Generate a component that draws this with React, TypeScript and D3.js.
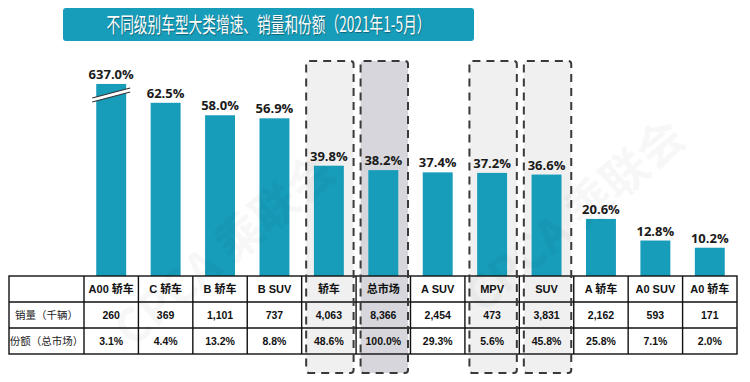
import React from "react";
import * as d3 from "d3";

const categories = ["A00 轿车", "C 轿车", "B 轿车", "B SUV", "轿车", "总市场", "A SUV", "MPV", "SUV", "A 轿车", "A0 SUV", "A0 轿车"];
const growth = [637.0, 62.5, 58.0, 56.9, 39.8, 38.2, 37.4, 37.2, 36.6, 20.6, 12.8, 10.2];
const sales = ["260", "369", "1,101", "737", "4,063", "8,366", "2,454", "473", "3,831", "2,162", "593", "171"];
const shares = ["3.1%", "4.4%", "13.2%", "8.8%", "48.6%", "100.0%", "29.3%", "5.6%", "45.8%", "25.8%", "7.1%", "2.0%"];
const rowLabels = ["销量（千辆）", "份额（总市场）"];
const highlighted = ["轿车", "MPV", "SUV"];
const highlightedDark = ["总市场"];
const title = "不同级别车型大类增速、销量和份额（2021年1-5月）";
const breakCap = 69.3;

export default function App() {
  const W = 750, H = 382;
  const tableLeft = 9, labelW = 75, tableRight = 737;
  const tableTop = 276, rowH = 26;
  const x = d3.scaleBand<string>().domain(categories).range([tableLeft + labelW, tableRight]).paddingInner(0.45).paddingOuter(0.225);
  const step = x.step();
  const colLeft = (c: string) => (x(c) as number) - x.paddingOuter() * step;
  const y = d3.scaleLinear().domain([0, 70]).range([tableTop, 82]);
  const barColor = "#179cba";
  const font = "'Open Sans', 'Noto Sans CJK SC', sans-serif";
  const tfont = "'Liberation Sans', Arial, 'Noto Sans CJK SC', sans-serif";
  const boxTop = 61, boxBottom = 373;
  const allHi = [...highlighted, ...highlightedDark];
  const rowsY = [tableTop, tableTop + rowH, tableTop + 2 * rowH, tableTop + 3 * rowH];

  return (
    <svg width={W} height={H} style={{ position: "absolute", left: 0, top: 0, background: "#fff" }}>
      {/* title */}
      <rect x={63} y={8} width={411} height={33} rx={3} fill="#179cba" />
      <text x={268.5} y={31.5} textAnchor="middle" fontSize={21} fill="#fff" fontFamily="'Noto Sans CJK SC', sans-serif"
        textLength={324} lengthAdjust="spacingAndGlyphs" style={{ textShadow: "1px 1px 1px rgba(0,0,0,0.35)" }}>{title}</text>

      {/* highlight box fills */}
      {allHi.map(c => (
        <rect key={"f" + c} x={colLeft(c) + 4.5} y={boxTop} width={step - 7} height={boxBottom - boxTop} rx={3}
          fill={highlightedDark.includes(c) ? "#d6d6dc" : "#f0f0f0"} />
      ))}

      {/* bars */}
      {categories.map((c, i) => {
        const v = Math.min(growth[i], breakCap);
        return <rect key={"b" + c} x={x(c)} y={y(v)} width={x.bandwidth()} height={tableTop - y(v)} fill={barColor} />;
      })}
      {/* break mark on first bar */}
      {(() => {
        const c = categories[0];
        const bx = (x(c) as number) - 4, bw = x.bandwidth() + 8;
        const y1 = 98, y2 = 88;
        return (
          <g>
            <path d={`M${bx},${y1} L${bx + bw},${y2} L${bx + bw},${y2 + 4} L${bx},${y1 + 4} Z`} fill="#fff" />
            <line x1={bx} y1={y1} x2={bx + bw} y2={y2} stroke="#333" strokeWidth={1.2} />
            <line x1={bx} y1={y1 + 4} x2={bx + bw} y2={y2 + 4} stroke="#333" strokeWidth={1.2} />
          </g>
        );
      })()}
      {/* value labels */}
      {categories.map((c, i) => {
        const v = Math.min(growth[i], breakCap);
        return (
          <text key={"l" + c} x={(x(c) as number) + x.bandwidth() / 2} y={y(v) - 5} textAnchor="middle" fontSize={13}
            fontWeight="bold" fill="#1a1a1a" fontFamily={font}>{growth[i].toFixed(1)}%</text>
        );
      })}

      {/* table grid */}
      <g stroke="#111" strokeWidth={1.4} fill="none">
        <rect x={tableLeft} y={tableTop} width={tableRight - tableLeft} height={3 * rowH} />
        {rowsY.slice(1, 3).map((yy, i) => <line key={"h" + i} x1={tableLeft} x2={tableRight} y1={yy} y2={yy} />)}
        <line x1={tableLeft + labelW} x2={tableLeft + labelW} y1={tableTop} y2={tableTop + 3 * rowH} />
        {categories.slice(1).map(c => <line key={"v" + c} x1={colLeft(c)} x2={colLeft(c)} y1={tableTop} y2={tableTop + 3 * rowH} />)}
      </g>
      {/* table text */}
      {rowLabels.map((t, i) => (
        <text key={"r" + i} x={tableLeft + labelW / 2} y={rowsY[i + 1] + rowH / 2 + 4} textAnchor="middle" fontSize={10.5}
          fill="#222" fontFamily="'Noto Sans CJK SC', sans-serif">{t}</text>
      ))}
      {categories.map((c, i) => {
        const cx = colLeft(c) + step / 2;
        return (
          <g key={"t" + c} fontFamily={tfont} fontWeight="bold" fill="#111" textAnchor="middle">
            <text x={cx} y={rowsY[0] + rowH / 2 + 4} fontSize={11}>{c}</text>
            <text x={cx} y={rowsY[1] + rowH / 2 + 4} fontSize={10.5}>{sales[i]}</text>
            <text x={cx} y={rowsY[2] + rowH / 2 + 4} fontSize={10.5}>{shares[i]}</text>
          </g>
        );
      })}

      {/* highlight box dashed borders */}
      {allHi.map(c => (
        <rect key={"s" + c} x={colLeft(c) + 4.5} y={boxTop} width={step - 7} height={boxBottom - boxTop} rx={3}
          fill="none" stroke="#3a3a3a" strokeWidth={2} strokeDasharray="8 6" />
      ))}

      {/* watermark */}
      <g fill="#000" opacity={0.035} fontFamily="'Noto Sans CJK SC', sans-serif" fontWeight="bold" fontSize={46}>
        <text transform="translate(235,262) rotate(-40)" textAnchor="middle">CPCA 乘联会</text>
        <text transform="translate(585,228) rotate(-40)" textAnchor="middle">CPCA 乘联会</text>
      </g>
    </svg>
  );
}
